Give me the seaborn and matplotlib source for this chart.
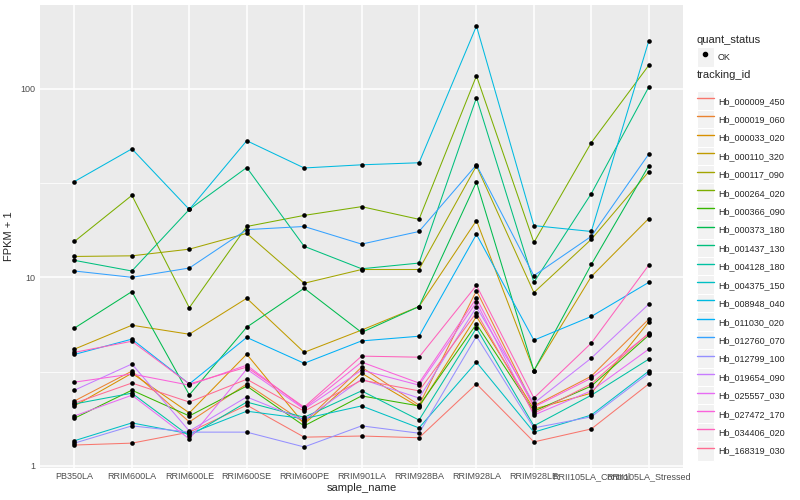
import numpy as np
import pandas as pd
import seaborn as sns
import matplotlib.pyplot as plt
from matplotlib.lines import Line2D
from matplotlib.patches import Rectangle
from matplotlib.legend_handler import HandlerLine2D
from matplotlib.ticker import FixedLocator, NullFormatter

samples = ['PB350LA', 'RRIM600LA', 'RRIM600LE', 'RRIM600SE', 'RRIM600PE', 'RRIM901LA',
           'RRIM928BA', 'RRIM928LA', 'RRIM928LE', 'RRII105LA_Control', 'RRII105LA_Stressed']

# FPKM + 1 per gene, in sample order
Hb_000009_450 = [1.29, 1.32, 1.51, 2.1, 1.42, 1.44, 1.41, 2.72, 1.34, 1.57, 2.72]
Hb_000019_060 = [2.21, 3.18, 1.71, 2.72, 1.7, 3.34, 2.1, 8.5, 2.08, 2.99, 6.0]
Hb_000033_020 = [2.08, 3.1, 1.91, 3.91, 1.67, 3.1, 2.05, 6.2, 2.0, 2.43, 5.8]
Hb_000110_320 = [4.16, 5.57, 4.99, 7.74, 4.0, 5.25, 7.0, 20.0, 3.2, 10.1, 20.5]
Hb_000117_090 = [12.9, 13.0, 14.1, 17.1, 9.3, 11.0, 11.0, 39.0, 8.3, 15.9, 36.3]
Hb_000264_020 = [15.5, 27.2, 6.9, 18.6, 21.3, 23.7, 20.3, 117.0, 15.3, 51.8, 133.0]
Hb_000366_090 = [1.79, 2.52, 1.84, 2.65, 1.63, 2.35, 2.08, 5.65, 1.95, 2.65, 4.93]
Hb_000373_180 = [5.38, 8.4, 2.38, 5.44, 8.75, 5.1, 7.0, 32.0, 3.2, 11.7, 39.0]
Hb_001437_130 = [12.3, 10.8, 22.9, 38.2, 14.6, 11.1, 11.9, 89.6, 9.4, 27.8, 102.0]
Hb_004128_180 = [2.13, 2.43, 1.44, 2.18, 1.81, 2.5, 1.75, 5.38, 1.63, 2.37, 3.68]
Hb_004375_150 = [1.36, 1.69, 1.48, 1.95, 1.78, 2.08, 1.59, 3.55, 1.51, 1.86, 3.18]
Hb_008948_040 = [32.2, 48.0, 22.9, 53.0, 38.0, 39.5, 40.5, 215.0, 18.8, 17.5, 179.0]
Hb_011030_020 = [3.9, 4.7, 2.72, 4.8, 3.5, 4.6, 4.87, 16.9, 4.64, 6.2, 9.4]
Hb_012760_070 = [10.8, 10.0, 11.2, 17.9, 18.6, 15.0, 17.5, 39.5, 10.2, 16.5, 45.0]
Hb_012799_100 = [1.32, 1.63, 1.51, 1.51, 1.26, 1.63, 1.49, 4.87, 1.59, 1.82, 3.1]
Hb_019654_090 = [2.52, 3.47, 1.53, 2.32, 1.75, 2.88, 2.29, 6.95, 2.15, 3.73, 7.2]
Hb_025557_030 = [1.84, 2.37, 1.39, 3.26, 2.0, 3.22, 2.68, 7.37, 1.86, 2.5, 4.16]
Hb_027472_170 = [2.78, 3.07, 2.68, 3.42, 2.02, 3.55, 2.75, 7.74, 2.05, 2.92, 5.0]
Hb_034406_020 = [4.0, 4.58, 2.72, 3.34, 2.05, 3.82, 3.77, 9.06, 2.29, 4.48, 11.6]
Hb_168319_030 = [2.15, 2.75, 2.18, 2.88, 1.95, 2.85, 2.5, 6.5, 1.9, 2.72, 5.06]

genes = {
    'Hb_000009_450': Hb_000009_450, 'Hb_000019_060': Hb_000019_060,
    'Hb_000033_020': Hb_000033_020, 'Hb_000110_320': Hb_000110_320,
    'Hb_000117_090': Hb_000117_090, 'Hb_000264_020': Hb_000264_020,
    'Hb_000366_090': Hb_000366_090, 'Hb_000373_180': Hb_000373_180,
    'Hb_001437_130': Hb_001437_130, 'Hb_004128_180': Hb_004128_180,
    'Hb_004375_150': Hb_004375_150, 'Hb_008948_040': Hb_008948_040,
    'Hb_011030_020': Hb_011030_020, 'Hb_012760_070': Hb_012760_070,
    'Hb_012799_100': Hb_012799_100, 'Hb_019654_090': Hb_019654_090,
    'Hb_025557_030': Hb_025557_030, 'Hb_027472_170': Hb_027472_170,
    'Hb_034406_020': Hb_034406_020, 'Hb_168319_030': Hb_168319_030,
}

# ggplot2 default hue palette for 20 levels
colors = ['#F8766D', '#EA8331', '#D89000', '#C09B00', '#A3A500', '#7CAE00', '#39B600',
          '#00BB4E', '#00BF7D', '#00C1A3', '#00BFC4', '#00BAE0', '#00B0F6', '#35A2FF',
          '#9590FF', '#C77CFF', '#E76BF3', '#FA62DB', '#FF62BC', '#FF6C91']

rows = []
for gid, vals in genes.items():
    for s, v in zip(samples, vals):
        rows.append({'tracking_id': gid, 'sample_name': s, 'fpkm': v, 'quant_status': 'OK'})
df = pd.DataFrame(rows)
df['x'] = df['sample_name'].map({s: i for i, s in enumerate(samples)})

sns.set_theme(style='darkgrid', rc={'axes.facecolor': '#EBEBEB', 'grid.color': 'white'})
plt.rcParams['font.family'] = ['Liberation Sans', 'DejaVu Sans']

fig = plt.figure(figsize=(8, 5), dpi=100)
ax = fig.add_axes([0.05, 0.064, 0.804, 0.926])

palette = dict(zip(genes.keys(), colors))
sns.lineplot(data=df, x='x', y='fpkm', hue='tracking_id', palette=palette,
             linewidth=0.75, sort=False, legend=False, ax=ax, estimator=None)
sns.scatterplot(data=df, x='x', y='fpkm', color='black', s=11, linewidth=0,
                legend=False, ax=ax, zorder=5)

ax.set_yscale('log')
lo, hi = np.log10(df['fpkm'].min()), np.log10(df['fpkm'].max())
pad = 0.05 * (hi - lo)
ax.set_ylim(10 ** (lo - pad), 10 ** (hi + pad))
ax.set_xlim(-0.6, len(samples) - 0.4)

ax.yaxis.set_major_locator(FixedLocator([1, 10, 100]))
ax.yaxis.set_minor_locator(FixedLocator([10 ** 0.5, 10 ** 1.5, 10 ** 2.5]))
ax.yaxis.set_minor_formatter(NullFormatter())
ax.set_yticklabels(['1', '10', '100'])
ax.set_xticks(range(len(samples)))
ax.set_xticklabels(samples)
ax.grid(which='major', color='white', linewidth=1.1)
ax.grid(which='minor', axis='y', color='white', linewidth=0.55)
for sp in ax.spines.values():
    sp.set_visible(False)
ax.tick_params(axis='both', which='major', length=2.2, width=0.6, color='#333333',
               labelsize=6.5, labelcolor='#4D4D4D', pad=1)
ax.tick_params(axis='y', which='minor', length=0)
ax.set_xlabel('sample_name', fontsize=8, labelpad=1)
ax.set_ylabel('FPKM + 1', fontsize=8, labelpad=5)


class KeyHandler(HandlerLine2D):
    def create_artists(self, legend, orig_handle, xdescent, ydescent, width, height, fontsize, trans):
        bg = Rectangle((-xdescent, -ydescent - 0.5), width, height + 1, facecolor='#F2F2F2',
                       edgecolor='white', linewidth=0.8, transform=trans)
        arts = super().create_artists(legend, orig_handle, xdescent, ydescent, width, height,
                                      fontsize, trans)
        return [bg] + list(arts)


common = dict(loc='upper left', frameon=False, fontsize=6.5,
              handlelength=1.9, handleheight=2.7, handletextpad=0.45, labelspacing=0.04,
              borderaxespad=0, borderpad=0, handler_map={Line2D: KeyHandler()})

# legend titles as plain text so the gap to the keys matches ggplot
fig.text(0.871, 0.92, 'quant_status', fontsize=8, va='center', ha='left')
fig.text(0.871, 0.85, 'tracking_id', fontsize=8, va='center', ha='left')

ok_handle = Line2D([], [], linestyle='none', marker='o', markersize=3, color='black')
leg1 = fig.legend([ok_handle], ['OK'], bbox_to_anchor=(0.871, 0.904), **common)

line_handles = [Line2D([], [], color=c, linewidth=1.0) for c in colors]
leg2 = fig.legend(line_handles, list(genes.keys()), bbox_to_anchor=(0.871, 0.816), **common)

fig.savefig('out.png', dpi=100)
